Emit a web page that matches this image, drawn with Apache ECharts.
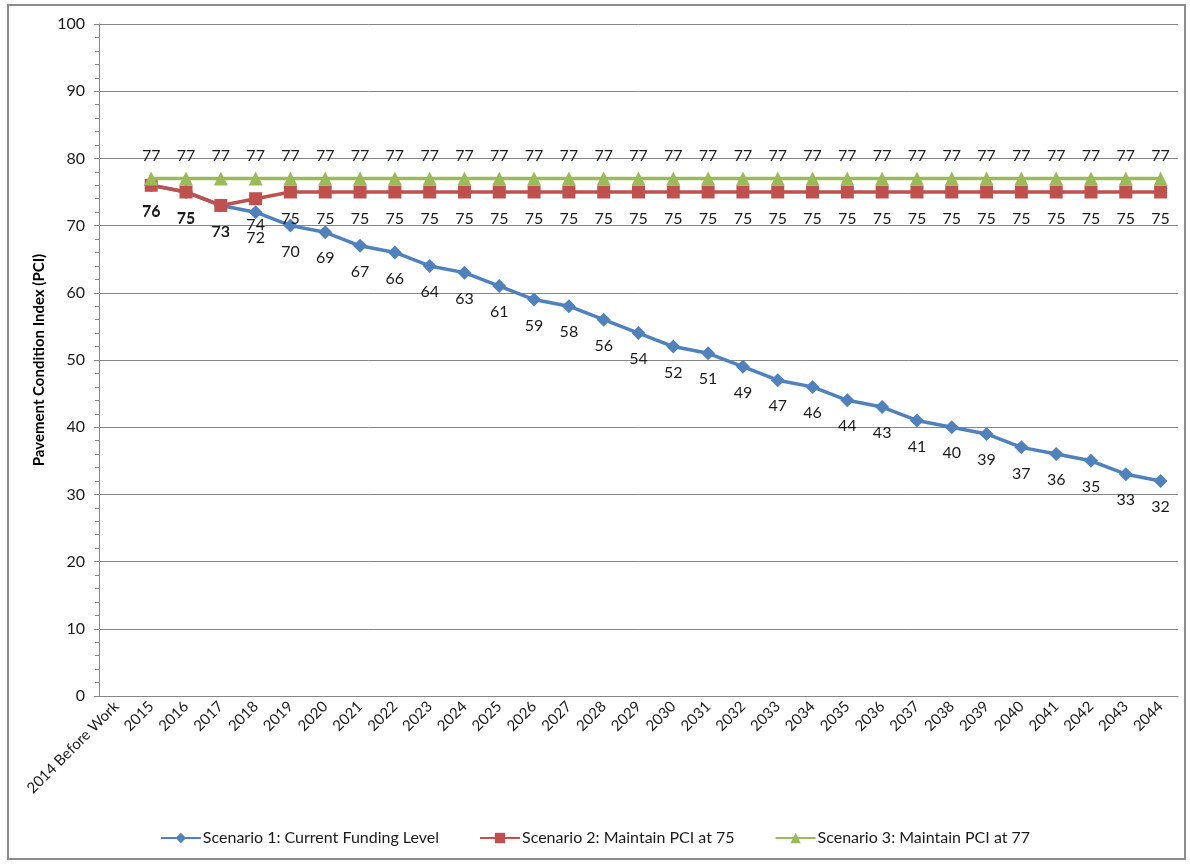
<!DOCTYPE html>
<html>
<head>
<meta charset="utf-8">
<script src="https://cdn.jsdelivr.net/npm/echarts@6/dist/echarts.min.js"></script>
<style>
html,body{margin:0;padding:0;background:#fff;}
#frame{position:absolute;left:7px;top:4px;width:1179px;height:856px;border:2px solid #8c8c8c;box-sizing:border-box;}
#chart{position:absolute;left:0;top:0;width:1190px;height:865px;}
</style>
</head>
<body>
<div id="frame"></div>
<div id="chart"></div>
<script>
const categories = ["2014 Before Work","2015","2016","2017","2018","2019","2020","2021","2022","2023","2024","2025","2026","2027","2028","2029","2030","2031","2032","2033","2034","2035","2036","2037","2038","2039","2040","2041","2042","2043","2044"];
const scenario1 = [null,76,75,73,72,70,69,67,66,64,63,61,59,58,56,54,52,51,49,47,46,44,43,41,40,39,37,36,35,33,32];
const scenario2 = [null,76,75,73,74,75,75,75,75,75,75,75,75,75,75,75,75,75,75,75,75,75,75,75,75,75,75,75,75,75,75];
const scenario3 = [null,77,77,77,77,77,77,77,77,77,77,77,77,77,77,77,77,77,77,77,77,77,77,77,77,77,77,77,77,77,77];
const seriesNames = ["Scenario 1: Current Funding Level","Scenario 2: Maintain PCI at 75","Scenario 3: Maintain PCI at 77"];
const yTicks = {min:0, max:100, interval:10};

const FONT = 'Lato';
const chart = echarts.init(document.getElementById('chart'), null, {renderer:'canvas'});
const lbl = {color:'#1a1a1a', fontSize:16, fontFamily:FONT};
chart.setOption({
  animation:false,
  backgroundColor:'transparent',
  grid:{left:99, right:12, top:24, bottom:169, containLabel:false},
  legend:{
    bottom:14, left:'center', itemGap:40, itemWidth:40, itemHeight:13,
    textStyle:{fontFamily:FONT, fontSize:16, color:'#1a1a1a', padding:[0,0,0,-3]},
    data:seriesNames
  },
  xAxis:{
    type:'category', data:categories, boundaryGap:true,
    axisLine:{lineStyle:{color:'#868686', width:1}},
    axisTick:{show:false},
    axisLabel:{rotate:45, interval:0, margin:8, color:'#1a1a1a', fontFamily:FONT, fontSize:15}
  },
  yAxis:{
    type:'value', min:yTicks.min, max:yTicks.max, interval:yTicks.interval,
    name:'Pavement Condition Index (PCI)', nameLocation:'middle', nameGap:48, nameRotate:90,
    nameTextStyle:{fontFamily:FONT, fontSize:15, fontWeight:'bold', color:'#000'},
    axisLine:{show:true, lineStyle:{color:'#868686'}},
    axisTick:{show:true, inside:false, length:5, lineStyle:{color:'#868686'}},
    minorTick:{show:true, splitNumber:5, length:4, lineStyle:{color:'#868686'}},
    splitLine:{show:true, lineStyle:{color:'#868686', width:1}},
    axisLabel:{color:'#1a1a1a', fontFamily:FONT, fontSize:16, margin:14}
  },
  series:[
    {name:seriesNames[0], type:'line', data:scenario1, symbol:'diamond', symbolSize:14,
     itemStyle:{color:'#4F81BD'}, lineStyle:{width:3.5, color:'#4F81BD'}, z:3,
     label:{show:true, position:'bottom', distance:11, ...lbl}},
    {name:seriesNames[1], type:'line', data:scenario2, symbol:'rect', symbolSize:13,
     itemStyle:{color:'#C0504D'}, lineStyle:{width:3.5, color:'#C0504D'}, z:4,
     label:{show:true, position:'bottom', distance:12, ...lbl}},
    {name:seriesNames[2], type:'line', data:scenario3, symbol:'triangle', symbolSize:14,
     itemStyle:{color:'#9BBB59'}, lineStyle:{width:3.5, color:'#9BBB59'}, z:5,
     label:{show:true, position:'top', distance:8, ...lbl}}
  ]
});
</script>
</body>
</html>
